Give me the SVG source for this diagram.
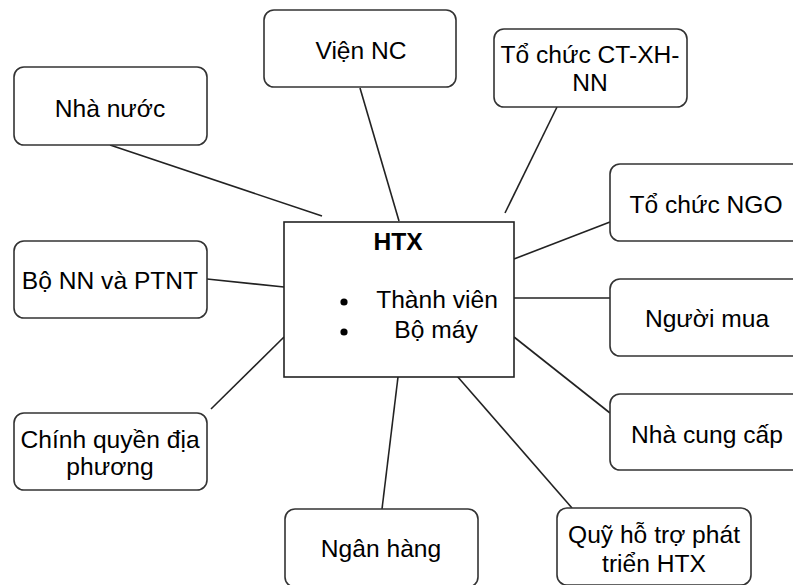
<svg xmlns="http://www.w3.org/2000/svg" width="793" height="585" viewBox="0 0 793 585">
<style>
.box{fill:#fff;stroke:#333;stroke-width:1.6}
.t{font-family:"Liberation Sans",Arial,sans-serif;font-size:24.6px;fill:#000;text-anchor:middle}
.b{font-weight:bold}
.c line{stroke:#222;stroke-width:1.6}
</style>
<rect width="793" height="585" fill="#fff"/>
<g class="c" id="connectors">
<line x1="110" y1="145" x2="322" y2="216"/>
<line x1="360" y1="88" x2="399" y2="221"/>
<line x1="557" y1="107" x2="505" y2="213"/>
<line x1="610" y1="222" x2="514" y2="259"/>
<line x1="514" y1="298" x2="610" y2="298"/>
<line x1="514" y1="337" x2="610" y2="413"/>
<line x1="457" y1="376" x2="572" y2="508"/>
<line x1="398" y1="377" x2="382" y2="509"/>
<line x1="284" y1="337" x2="211" y2="409"/>
<line x1="207" y1="279" x2="284" y2="287"/>
</g>
<g id="htx">
<rect x="284" y="222" width="230" height="155" fill="#fff" stroke="#222" stroke-width="1.6"/>
<text class="t b" x="398" y="250">HTX</text>
<circle cx="344" cy="302" r="3.6"/>
<circle cx="344" cy="332" r="3.6"/>
<text class="t" x="437" y="308">Thành viên</text>
<text class="t" x="436" y="338">Bộ máy</text>
</g>
<g id="nha-nuoc"><rect class="box" x="14" y="67" width="193" height="78" rx="10"/><text class="t" x="110" y="117">Nhà nước</text></g>
<g id="vien-nc"><rect class="box" x="264" y="10" width="192" height="77" rx="10"/><text class="t" x="361" y="59">Viện NC</text></g>
<g id="ct-xh-nn"><rect class="box" x="494" y="29" width="193" height="78" rx="10"/><text class="t" x="590" y="63">Tổ chức CT-XH-</text><text class="t" x="590" y="91">NN</text></g>
<g id="ngo"><rect class="box" x="610" y="164" width="193" height="77" rx="10"/><text class="t" x="706" y="213">Tổ chức NGO</text></g>
<g id="nguoi-mua"><rect class="box" x="610" y="279" width="193" height="77" rx="10"/><text class="t" x="707" y="327">Người mua</text></g>
<g id="nha-cung-cap"><rect class="box" x="610" y="394" width="193" height="76" rx="10"/><text class="t" x="707" y="443">Nhà cung cấp</text></g>
<g id="quy"><rect class="box" x="557" y="508" width="194" height="77" rx="10"/><text class="t" x="654" y="543">Quỹ hỗ trợ phát</text><text class="t" x="654" y="572">triển HTX</text></g>
<g id="ngan-hang"><rect class="box" x="285" y="509" width="193" height="78" rx="10"/><text class="t" x="381" y="557">Ngân hàng</text></g>
<g id="bo-nn"><rect class="box" x="14" y="241" width="193" height="77" rx="10"/><text class="t" x="110" y="289">Bộ NN và PTNT</text></g>
<g id="chinh-quyen"><rect class="box" x="14" y="413" width="193" height="77" rx="10"/><text class="t" x="110" y="448">Chính quyền địa</text><text class="t" x="110" y="475">phương</text></g>
</svg>
